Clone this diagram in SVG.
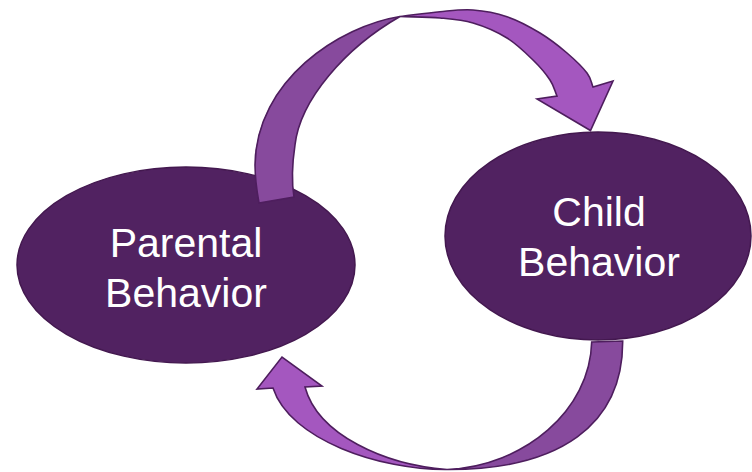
<svg xmlns="http://www.w3.org/2000/svg" width="752" height="472" viewBox="0 0 752 472">
  <style>
    .node { fill: #512261; stroke: #43184f; stroke-width: 1.5; }
    .label { font-family: "Liberation Sans", Arial, sans-serif; font-size: 41px; fill: #ffffff; text-anchor: middle; }
    .front { fill: #a457bf; stroke: #4e1e5e; stroke-width: 1.6; stroke-linejoin: miter; }
    .back { fill: #874a9d; stroke: #4e1e5e; stroke-width: 1.6; stroke-linejoin: miter; }
  </style>

  <rect width="752" height="472" fill="#ffffff"/>

  <g id="parental">
    <ellipse class="node" cx="186" cy="265" rx="169" ry="98"/>
    <text class="label" x="186" y="257">Parental</text>
    <text class="label" x="186" y="307">Behavior</text>
  </g>

  <g id="child">
    <ellipse class="node" cx="598" cy="236" rx="153" ry="104"/>
    <text class="label" x="599" y="226">Child</text>
    <text class="label" x="599" y="276">Behavior</text>
  </g>

  <g id="connectors">
    <!-- upper curved arrow: parental -> child -->
    <g id="arrow-top">
      <path class="back" d="M400,16.5 C340,26 256,80 255,165 C255,180 257,192 259,203 L294,197 C292,185 292,165 295,145 C300,100 345,48 400,16.5 Z"/>
      <path class="front" d="M400,16.5
        C413.3,14.9 427.8,12.8 440,11.7
        C452.2,10.6 461.8,9.2 473,10
        C484.2,10.8 495.8,12.9 507,16.7
        C518.2,20.5 530,26.9 540,33
        C550,39.1 559.2,46.3 567,53
        C574.8,59.7 582.7,67.3 587,73
        C591.3,78.7 591,82.3 593,87
        L613,81 L590.5,130.5 L537,99 L557,96
        C554.7,90.7 554,86 550,80
        C546,74 540.2,67 533,60
        C525.8,53 517,44.2 507,38
        C497,31.8 484.2,26.3 473,23
        C461.8,19.7 452.2,19.1 440,18
        C427.8,16.9 413.3,17 400,16.5 Z"/>
    </g>

    <!-- lower curved arrow: child -> parental -->
    <g id="arrow-bottom">
      <path class="back" d="M622.7,341 C623,425 560,470 447,469.5 C525,466 590,410 591.7,342 Z"/>
      <path class="front" d="M447,469.5 C380,470 290,440 273,388 L257,389 L282,357 L322,386 L305,387 C318,435 385,465 447,469.5 Z"/>
    </g>
  </g>
</svg>
